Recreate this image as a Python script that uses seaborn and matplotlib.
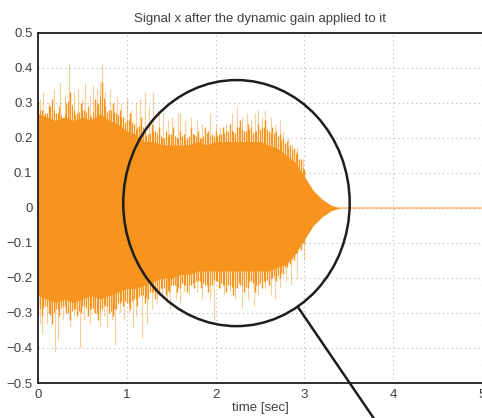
import numpy as np
import pandas as pd
import matplotlib
matplotlib.use("Agg")
import matplotlib.pyplot as plt
from matplotlib.patches import Ellipse
import seaborn as sns

# ---------------- data ----------------
title = "Signal x after the dynamic gain applied to it"
xlabel = "time [sec]"
x_ticks = [0, 1, 2, 3, 4, 5]
y_ticks = [-0.5, -0.4, -0.3, -0.2, -0.1, 0, 0.1, 0.2, 0.3, 0.4, 0.5]
y_tick_labels = ["\u22120.5", "\u22120.4", "\u22120.3", "\u22120.2", "\u22120.1", "0",
                 "0.1", "0.2", "0.3", "0.4", "0.5"]

# dense core envelope of the signal
env_t = [0.0, 0.1, 0.2, 0.3, 0.4, 0.5, 0.6, 0.7, 0.8, 0.9, 1.0, 1.1, 1.2, 1.3, 1.4,
         1.5, 1.6, 1.7, 1.8, 1.9, 2.0, 2.1, 2.2, 2.3, 2.4, 2.5, 2.6, 2.7, 2.8, 2.9,
         3.0, 3.1, 3.2, 3.3, 3.4]
env_hi = [0.27, 0.26, 0.25, 0.26, 0.25, 0.26, 0.25, 0.27, 0.25, 0.24, 0.22, 0.21,
          0.19, 0.19, 0.18, 0.18, 0.18, 0.18, 0.19, 0.18, 0.19, 0.19, 0.19, 0.19,
          0.19, 0.19, 0.18, 0.17, 0.15, 0.13, 0.09, 0.05, 0.025, 0.008, 0.0]
env_lo = [-0.25, -0.26, -0.27, -0.26, -0.27, -0.26, -0.25, -0.26, -0.25, -0.24,
          -0.23, -0.23, -0.22, -0.21, -0.20, -0.20, -0.19, -0.19, -0.18, -0.18,
          -0.18, -0.18, -0.18, -0.18, -0.18, -0.18, -0.18, -0.17, -0.16, -0.13,
          -0.09, -0.05, -0.025, -0.008, 0.0]

# solid samples poking out of the core (every 0.04 s from 0 to 3.0)
tex_t = [round(0.04 * i, 2) for i in range(76)]
tex_hi = [0.30, 0.28, 0.27, 0.29, 0.31, 0.27, 0.29, 0.26, 0.30, 0.33, 0.28, 0.27, 0.30,
          0.28, 0.29, 0.26, 0.31, 0.30, 0.36, 0.29, 0.28, 0.30, 0.27, 0.28, 0.26,
          0.25, 0.27, 0.24, 0.23, 0.26, 0.22, 0.21, 0.24, 0.22, 0.23, 0.20, 0.22,
          0.21, 0.23, 0.20, 0.22, 0.21, 0.20, 0.23, 0.21, 0.22, 0.20, 0.23, 0.22,
          0.21, 0.22, 0.21, 0.23, 0.22, 0.24, 0.22, 0.23, 0.25, 0.22, 0.24, 0.23,
          0.22, 0.24, 0.23, 0.25, 0.22, 0.23, 0.22, 0.21, 0.20, 0.19, 0.18, 0.17,
          0.16, 0.14, 0.11]
tex_lo = [-0.29, -0.31, -0.28, -0.30, -0.33, -0.29, -0.31, -0.28, -0.30, -0.32, -0.29,
          -0.31, -0.30, -0.28, -0.31, -0.29, -0.30, -0.32, -0.29, -0.28, -0.30, -0.31,
          -0.29, -0.27, -0.28, -0.27, -0.29, -0.26, -0.28, -0.25, -0.27, -0.26, -0.24,
          -0.26, -0.25, -0.23, -0.25, -0.24, -0.22, -0.24, -0.23, -0.22, -0.24, -0.22,
          -0.23, -0.21, -0.23, -0.22, -0.24, -0.22, -0.21, -0.23, -0.22, -0.24, -0.22,
          -0.25, -0.23, -0.22, -0.24, -0.23, -0.21, -0.24, -0.22, -0.23, -0.21, -0.22,
          -0.20, -0.21, -0.20, -0.19, -0.17, -0.16, -0.15, -0.13, -0.12, -0.10]

# sparse outlying peaks (lighter)
pk_up_t = [0.02, 0.06, 0.12, 0.18, 0.25, 0.30, 0.35, 0.40, 0.45, 0.49, 0.53, 0.58,
           0.62, 0.66, 0.70, 0.72, 0.76, 0.81, 0.85, 0.89, 0.94, 1.00, 1.05, 1.10,
           1.15, 1.20, 1.25, 1.30, 1.36, 1.41, 1.46, 1.51, 1.58, 1.60, 1.66, 1.72,
           1.79, 1.85, 1.94, 2.00, 2.05, 2.12, 2.18, 2.24, 2.30, 2.35, 2.40, 2.44,
           2.48, 2.52, 2.56, 2.62, 2.67, 2.72, 2.76, 2.81, 2.86, 2.92, 2.98]
pk_up_v = [0.31, 0.33, 0.30, 0.34, 0.36, 0.32, 0.41, 0.33, 0.34, 0.31, 0.36, 0.32,
           0.35, 0.34, 0.36, 0.41, 0.33, 0.34, 0.30, 0.32, 0.30, 0.31, 0.28, 0.30,
           0.31, 0.33, 0.29, 0.33, 0.27, 0.28, 0.25, 0.26, 0.27, 0.27, 0.25, 0.26,
           0.25, 0.24, 0.27, 0.24, 0.23, 0.24, 0.27, 0.29, 0.26, 0.27, 0.25, 0.27,
           0.28, 0.26, 0.28, 0.26, 0.24, 0.25, 0.22, 0.20, 0.18, 0.17, 0.14]
pk_dn_t = [0.02, 0.04, 0.10, 0.15, 0.19, 0.23, 0.28, 0.32, 0.36, 0.41, 0.47, 0.52,
           0.58, 0.63, 0.70, 0.74, 0.78, 0.83, 0.87, 0.92, 0.97, 1.03, 1.07, 1.10,
           1.17, 1.23, 1.28, 1.34, 1.40, 1.45, 1.49, 1.55, 1.60, 1.64, 1.70, 1.79,
           1.85, 1.94, 1.98, 2.05, 2.10, 2.16, 2.22, 2.30, 2.36, 2.43, 2.48, 2.56,
           2.62, 2.67, 2.73, 2.79, 2.85, 2.92, 2.99]
pk_dn_v = [-0.33, -0.36, -0.33, -0.31, -0.41, -0.38, -0.32, -0.30, -0.34, -0.31, -0.40,
           -0.32, -0.33, -0.30, -0.34, -0.31, -0.34, -0.32, -0.39, -0.30, -0.32, -0.30,
           -0.34, -0.31, -0.37, -0.33, -0.29, -0.27, -0.25, -0.27, -0.29, -0.26, -0.27,
           -0.24, -0.25, -0.24, -0.26, -0.26, -0.32, -0.23, -0.25, -0.24, -0.26, -0.29,
           -0.26, -0.28, -0.25, -0.23, -0.25, -0.26, -0.23, -0.21, -0.22, -0.20, -0.15]

# silent tail after the gain closes
tail_t = [3.3, 5.0]
tail_v = [0.0, 0.0]

# annotation: circle around the decay and pointer line (data coordinates)
circ_center = (2.235, 0.014)
circ_w, circ_h = 2.55, 0.703
pointer_x = [2.935, 3.87]
pointer_y = [-0.286, -0.634]

# ---------------- style ----------------
sns.set_style("white")
plt.rcParams["font.family"] = ["Liberation Sans", "DejaVu Sans"]
ORANGE = "#F7941E"
TXT = "#404040"
SPINE = "#1e1e1e"
FS = 9.5

fig = plt.figure(figsize=(4.82, 4.18), dpi=100)
ax = fig.add_axes([38 / 482, 1 - 383 / 418, 444 / 482, 350 / 418])

# core of the signal
ax.fill_between(env_t, env_lo, env_hi, color=ORANGE, lw=0, zorder=2)
# dense samples around the core
ax.vlines(tex_t, 0, tex_hi, color=ORANGE, lw=1.0, zorder=2)
ax.vlines(tex_t, tex_lo, 0, color=ORANGE, lw=1.0, zorder=2)
ax.vlines([t + 0.02 for t in tex_t[:-1]], 0,
          [(a + b) / 2 - 0.01 for a, b in zip(tex_hi[:-1], tex_hi[1:])],
          color=ORANGE, lw=0.8, zorder=2)
ax.vlines([t + 0.02 for t in tex_t[:-1]],
          [(a + b) / 2 + 0.01 for a, b in zip(tex_lo[:-1], tex_lo[1:])], 0,
          color=ORANGE, lw=0.8, zorder=2)
# outlying peaks
ax.vlines(pk_up_t, 0, pk_up_v, color=ORANGE, lw=0.8, alpha=0.45, zorder=2)
ax.vlines(pk_dn_t, pk_dn_v, 0, color=ORANGE, lw=0.8, alpha=0.45, zorder=2)

tail = pd.DataFrame({"t": tail_t, "x": tail_v})
sns.lineplot(data=tail, x="t", y="x", ax=ax, color=ORANGE, alpha=0.45, lw=1.6, zorder=2)

# annotation
ax.add_patch(Ellipse(circ_center, circ_w, circ_h, fill=False, ec=SPINE, lw=1.8, zorder=4))
ax.plot(pointer_x, pointer_y, color=SPINE, lw=1.8, clip_on=False, zorder=4)

# axes
ax.set_xlim(0, 5)
ax.set_ylim(-0.5, 0.5)
ax.set_xticks(x_ticks)
ax.set_yticks(y_ticks)
ax.set_yticklabels(y_tick_labels)
ax.grid(True, ls=(0, (1, 3)), color="#b8b8b8", lw=0.8, zorder=0)
ax.set_axisbelow(True)
ax.tick_params(direction="in", length=3, width=0.8, color=SPINE, labelcolor=TXT,
               labelsize=FS, pad=4)
for s in ["left", "bottom", "top"]:
    ax.spines[s].set_visible(True)
    ax.spines[s].set_color(SPINE)
    ax.spines[s].set_linewidth(1.3)
ax.spines["right"].set_visible(False)
ax.set_xlabel(xlabel, color=TXT, fontsize=FS, labelpad=1)
ax.set_ylabel("")
ax.set_title(title, color=TXT, fontsize=FS, pad=8)

fig.savefig("out.png", dpi=100)
